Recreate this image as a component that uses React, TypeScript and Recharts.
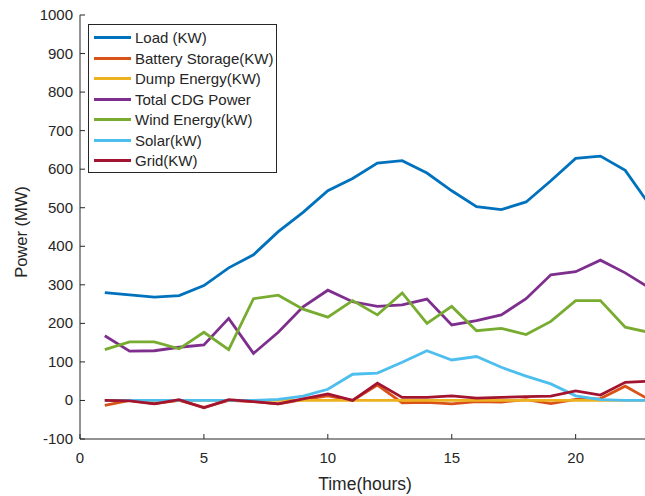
import { LineChart, Line, XAxis, YAxis, Label } from 'recharts';

const hours = [1, 2, 3, 4, 5, 6, 7, 8, 9, 10, 11, 12, 13, 14, 15, 16, 17, 18, 19, 20, 21, 22, 23];
const load = [280, 274, 268, 272, 298, 344, 378, 438, 488, 544, 576, 616, 622, 590, 544, 503, 495, 515, 570, 628, 634, 597, 506];
const battery = [-13, 0, -8, 0, -18, 0, -3, -9, 2, 12, 0, 40, -6, -5, -9, -3, -4, 2, -8, 3, 5, 37, 1];
const dump = [0, 0, 0, 0, 0, 0, 0, 0, 0, 0, 0, 0, 0, 0, 0, 0, 0, 0, 0, 0, 0, 0, 0];
const cdg = [168, 128, 129, 138, 144, 213, 122, 177, 243, 286, 256, 244, 248, 263, 196, 207, 222, 264, 326, 334, 364, 331, 291];
const wind = [132, 152, 152, 134, 177, 132, 264, 273, 237, 216, 259, 222, 279, 200, 244, 181, 187, 171, 205, 259, 259, 190, 176];
const solar = [0, 0, 0, 0, 0, 0, 0, 3, 11, 29, 68, 71, 99, 129, 105, 114, 86, 63, 43, 12, 2, 0, 0];
const grid = [0, -1, -9, 2, -19, 2, -3, -9, 4, 17, 0, 45, 8, 8, 12, 6, 8, 10, 11, 25, 14, 47, 50];

const xTicks = [0, 5, 10, 15, 20];
const yTicks = [-100, 0, 100, 200, 300, 400, 500, 600, 700, 800, 900, 1000];

const series = [
  { key: 'load', name: 'Load (KW)', color: '#0072BD' },
  { key: 'battery', name: 'Battery Storage(KW)', color: '#D95319' },
  { key: 'dump', name: 'Dump Energy(KW)', color: '#EDB120' },
  { key: 'cdg', name: 'Total CDG Power', color: '#7E2F8E' },
  { key: 'wind', name: 'Wind Energy(kW)', color: '#77AC30' },
  { key: 'solar', name: 'Solar(kW)', color: '#4DBEEE' },
  { key: 'grid', name: 'Grid(KW)', color: '#A2142F' }
];

const data = hours.map((h, i) => ({
  hour: h,
  load: load[i],
  battery: battery[i],
  dump: dump[i],
  cdg: cdg[i],
  wind: wind[i],
  solar: solar[i],
  grid: grid[i]
}));

const FONT = '"Liberation Sans", Arial, sans-serif';
const INK = '#262626';

const BottomTick = ({ x, y, payload }: any) => (
  <g>
    <line x1={x} x2={x} y1={y} y2={y - 5} stroke={INK} />
    <text x={x} y={y + 24} textAnchor="middle" fill={INK} fontSize={15} fontFamily={FONT}>
      {payload.value}
    </text>
  </g>
);

const TopTick = ({ x, y }: any) => (
  <line x1={x} x2={x} y1={y} y2={y + 5} stroke={INK} />
);

const LeftTick = ({ x, y, payload }: any) => (
  <g>
    <line x1={x} x2={x + 5} y1={y} y2={y} stroke={INK} />
    <text x={x - 7} y={y + 5} textAnchor="end" fill={INK} fontSize={15} fontFamily={FONT}>
      {payload.value}
    </text>
  </g>
);

const YTitle = ({ viewBox }: any) => {
  const cx = viewBox.x + 27;
  const cy = viewBox.y + viewBox.height / 2 + 5;
  return (
    <text
      x={cx}
      y={cy}
      transform={`rotate(-90, ${cx}, ${cy})`}
      textAnchor="middle"
      fill={INK}
      fontSize={16.5}
      fontFamily={FONT}
    >
      Power (MW)
    </text>
  );
};

const App = () => {
  return (
    <div
      style={{
        position: 'fixed',
        left: 0,
        top: 0,
        width: 645,
        height: 496,
        overflow: 'hidden',
        background: '#fff'
      }}
    >
      <LineChart width={660} height={496} data={data} margin={{ top: 15, right: 10, left: 0, bottom: 0 }}>
        <XAxis
          dataKey="hour"
          type="number"
          domain={[0, 23]}
          ticks={xTicks}
          height={57}
          tickSize={0}
          tickMargin={0}
          stroke={INK}
          tick={<BottomTick />}
        >
          <Label
            value="Time(hours)"
            position="insideBottom"
            offset={6}
            style={{ fill: INK, fontSize: 17.5, fontFamily: FONT }}
          />
        </XAxis>
        <XAxis
          xAxisId="top"
          orientation="top"
          dataKey="hour"
          type="number"
          domain={[0, 23]}
          ticks={xTicks}
          height={0}
          tickSize={0}
          tickMargin={0}
          stroke={INK}
          tick={<TopTick />}
        />
        <YAxis
          type="number"
          domain={[-100, 1000]}
          ticks={yTicks}
          width={80}
          tickSize={0}
          tickMargin={0}
          stroke={INK}
          tick={<LeftTick />}
        >
          <Label content={<YTitle />} />
        </YAxis>
        {series.map((s) => (
          <Line
            key={s.key}
            type="linear"
            dataKey={s.key}
            name={s.name}
            stroke={s.color}
            strokeWidth={2.8}
            dot={false}
            activeDot={false}
            isAnimationActive={false}
          />
        ))}
      </LineChart>
      <div
        style={{
          position: 'absolute',
          left: 88,
          top: 24,
          width: 187,
          height: 147,
          border: `1px solid ${INK}`,
          background: '#fff',
          fontFamily: FONT,
          fontSize: 15,
          color: INK
        }}
      >
        {series.map((s, i) => (
          <div
            key={s.key}
            style={{
              position: 'absolute',
              left: 0,
              top: 2.5 + i * 20.5,
              height: 20.5,
              display: 'flex',
              alignItems: 'center',
              whiteSpace: 'nowrap'
            }}
          >
            <div style={{ marginLeft: 5, width: 37, height: 3, background: s.color }} />
            <span style={{ marginLeft: 4, lineHeight: 1 }}>{s.name}</span>
          </div>
        ))}
      </div>
    </div>
  );
};

export default App;
